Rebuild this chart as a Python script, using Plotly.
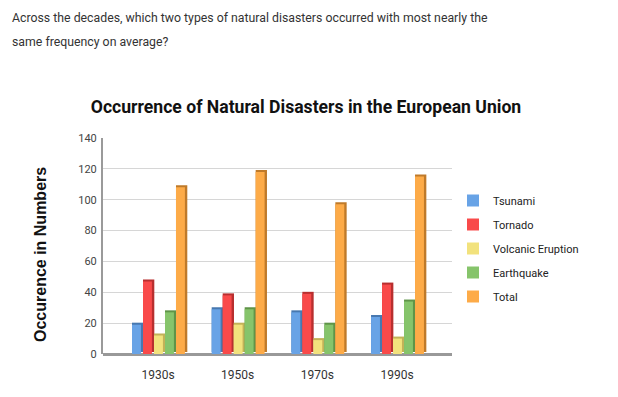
import plotly.graph_objects as go

decades = ["1930s", "1950s", "1970s", "1990s"]
series_names = ["Tsunami", "Tornado", "Volcanic Eruption", "Earthquake", "Total"]
tsunami = [19, 29, 27, 24]
tornado = [47, 38, 39, 45]
volcanic = [12, 19, 9, 10]
earthquake = [27, 29, 19, 34]
total = [108, 118, 97, 115]
y_ticks = [0, 20, 40, 60, 80, 100, 120, 140]

values = [tsunami, tornado, volcanic, earthquake, total]
front_colors = ["#68a3e6", "#f94a4a", "#f2e27d", "#86c46b", "#fdab48"]
side_colors = ["#4778b0", "#b82f2f", "#c2b258", "#5f9448", "#bf7a2a"]

W, H = 618, 397
O = 8  # page offset of the figure
# plot area in page coordinates
PL, PR, PT, PB = 103, 452, 138, 354
L, R, T, B = PL - O, W - (PR - O), PT - O, H - (PB - O)
pw, ph = PR - PL, PB - PT

def px_x(x):
    return (x - PL) / pw

def px_y(y):
    return (PB - y) / ph

fig = go.Figure()
start0 = -0.326
slot = 0.138
front_w = 0.112
# side/depth faces
for i, (name, vals) in enumerate(zip(series_names, values)):
    fig.add_trace(go.Bar(
        x=decades, y=vals, base=1.3, name=name, showlegend=False,
        offset=start0 + i * slot, width=front_w + 0.03,
        marker=dict(color=side_colors[i], line=dict(width=0)),
        hoverinfo="skip",
    ))
# front faces
for i, (name, vals) in enumerate(zip(series_names, values)):
    fig.add_trace(go.Bar(
        x=decades, y=vals, name=name,
        offset=start0 + i * slot, width=front_w,
        marker=dict(color=front_colors[i], line=dict(width=0)),
        legendgroup=name,
    ))

fig.update_layout(
    width=W, height=H,
    margin=dict(l=L, r=R, t=T, b=B, pad=0),
    paper_bgcolor="white", plot_bgcolor="white",
    barmode="overlay",
    font=dict(family="Roboto", color="#333"),
    title=dict(
        text="<b>Occurrence of Natural Disasters in the European Union</b>",
        x=(306 - O) / W, xanchor="center", y=1 - (107 - O) / H, yanchor="middle",
        yref="container", xref="container",
        font=dict(family="Roboto", size=17.6, color="#111"),
    ),
    xaxis=dict(
        type="category", range=[-0.69, 3.69],
        showgrid=False, ticks="", showline=False,
        tickfont=dict(family="Roboto", size=12, color="#333"),
        ticklabelstandoff=12, zeroline=False,
    ),
    yaxis=dict(
        range=[0, 140], tickvals=y_ticks,
        showgrid=True, gridcolor="#d6d6d6", gridwidth=1,
        showline=True, linecolor="#9a9a9a", linewidth=2,
        ticks="", tickfont=dict(family="Roboto", size=11, color="#444"),
        ticklabelstandoff=2,
        zeroline=True, zerolinecolor="#999999", zerolinewidth=3,
    ),
    legend=dict(
        x=px_x(453), xanchor="left", y=px_y(186), yanchor="top",
        font=dict(family="Roboto", size=11, color="#222"),
        tracegroupgap=5, bgcolor="rgba(0,0,0,0)",
        itemclick=False,
    ),
    showlegend=True,
    annotations=[
        dict(text="Across the decades, which two types of natural disasters occurred with most nearly the",
             xref="paper", yref="paper", x=px_x(10), y=px_y(18), xanchor="left", yanchor="middle",
             showarrow=False, font=dict(family="Roboto", size=12.3, color="#333")),
        dict(text="same frequency on average?",
             xref="paper", yref="paper", x=px_x(10), y=px_y(42), xanchor="left", yanchor="middle",
             showarrow=False, font=dict(family="Roboto", size=12.3, color="#333")),
        dict(text="<b>Occurence in Numbers</b>",
             xref="paper", yref="paper", x=px_x(40), y=px_y(255), xanchor="center", yanchor="middle",
             textangle=-90, showarrow=False,
             font=dict(family="Liberation Sans", size=16, color="#111")),
    ],
)

fig.write_html("out.html")
